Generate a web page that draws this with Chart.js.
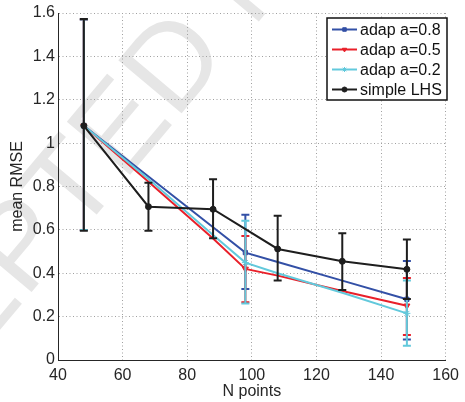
<!DOCTYPE html>
<html>
<head>
<meta charset="utf-8">
<script src="https://cdn.jsdelivr.net/npm/chart.js@4.4.1/dist/chart.umd.min.js"></script>
<style>
  html, body { margin: 0; padding: 0; background: #fff; }
</style>
</head>
<body>
<canvas id="chart" width="465" height="402"></canvas>
<script>
// Data
const xAdap = [48, 68, 88, 98, 108, 128, 148];
const rmseA08 = [1.08, 0.846, 0.612, 0.495, 0.452, 0.366, 0.28];
const rmseA05 = [1.08, 0.822, 0.56, 0.42, 0.389, 0.318, 0.25];
const rmseA02 = [1.08, 0.835, 0.576, 0.449, 0.40, 0.31, 0.215];
const lowA08 = [0.6, null, null, 0.327, null, null, 0.095];
const highA08 = [1.57, null, null, 0.67, null, null, 0.456];
const lowA05 = [0.6, null, null, 0.266, null, null, 0.115];
const highA05 = [1.57, null, null, 0.572, null, null, 0.378];
const lowA02 = [0.6, null, null, 0.261, null, null, 0.066];
const highA02 = [1.57, null, null, 0.642, null, null, 0.367];

const xLHS = [48, 68, 88, 108, 128, 148];
const rmseLHS = [1.08, 0.707, 0.695, 0.512, 0.455, 0.418];
const lowLHS = [0.596, 0.596, 0.561, 0.366, 0.323, 0.281];
const highLHS = [1.572, 0.817, 0.834, 0.665, 0.584, 0.556];

const seriesNames = ["adap a=0.8", "adap a=0.5", "adap a=0.2", "simple LHS"];
const xTicks = [40, 60, 80, 100, 120, 140, 160];
const yTicks = [0, 0.2, 0.4, 0.6, 0.8, 1, 1.2, 1.4, 1.6];
const yTickLabels = ["0", "0.2", "0.4", "0.6", "0.8", "1", "1.2", "1.4", "1.6"];

const FONT = '"Liberation Sans", Arial, Helvetica, sans-serif';
const BLUE = "#3350a6", RED = "#e9202a", CYAN = "#62c9dc", BLACK = "#1e1e1e";

const toPoints = (xs, ys) => xs.map((x, i) => ({ x: x, y: ys[i] }));
const radii = (lows, r) => lows.map(v => v == null ? 0 : r);

// error bars, drawn just under each series
const errorBars = {
  id: "errorBars",
  beforeDatasetDraw(chart, args) {
    const ds = chart.data.datasets[args.index];
    if (!ds.errLow) return;
    const ctx = chart.ctx, xs = chart.scales.x, ys = chart.scales.y;
    ctx.save();
    ctx.strokeStyle = ds.borderColor;
    ctx.lineWidth = 2;
    ds.data.forEach((p, i) => {
      const lo = ds.errLow[i], hi = ds.errHigh[i];
      if (lo == null) return;
      const x = xs.getPixelForValue(p.x);
      const y1 = ys.getPixelForValue(lo), y2 = ys.getPixelForValue(hi);
      ctx.beginPath();
      ctx.moveTo(x, y1); ctx.lineTo(x, y2);
      ctx.moveTo(x - 4, y1); ctx.lineTo(x + 4, y1);
      ctx.moveTo(x - 4, y2); ctx.lineTo(x + 4, y2);
      ctx.stroke();
    });
    ctx.restore();
  }
};

// faint diagonal watermark
const watermark = {
  id: "watermark",
  beforeDraw(chart) {
    const ctx = chart.ctx;
    ctx.save();
    ctx.translate(-189, 555);
    ctx.rotate(-50 * Math.PI / 180);
    ctx.font = "120px " + FONT;
    ctx.fillStyle = "#e6e6e6";
    ctx.fillText("ACCEPTED MANUSCRIPT", 0, 0);
    ctx.restore();
  }
};

// MATLAB style boxed legend
const boxLegend = {
  id: "boxLegend",
  afterDraw(chart) {
    const ctx = chart.ctx;
    const x0 = 327, y0 = 18, w = 120, h = 82;
    ctx.save();
    ctx.fillStyle = "#fff";
    ctx.fillRect(x0, y0, w, h);
    ctx.strokeStyle = "#111";
    ctx.lineWidth = 1.5;
    ctx.strokeRect(x0, y0, w, h);
    ctx.font = "16px " + FONT;
    ctx.textBaseline = "middle";
    chart.data.datasets.forEach((ds, i) => {
      const y = y0 + 11.5 + i * 20;
      ctx.strokeStyle = ds.borderColor;
      ctx.fillStyle = ds.backgroundColor;
      ctx.lineWidth = 2;
      ctx.beginPath();
      ctx.moveTo(x0 + 5, y); ctx.lineTo(x0 + 30, y);
      ctx.stroke();
      ctx.lineWidth = 1;
      Chart.helpers.drawPoint(ctx, {
        pointStyle: ds.pointStyle, rotation: ds.pointRotation || 0,
        radius: 2.5, borderWidth: 1
      }, x0 + 17.5, y);
      ctx.fillStyle = "#111";
      ctx.fillText(ds.label, x0 + 33, y + 1);
    });
    ctx.restore();
  }
};

new Chart(document.getElementById("chart"), {
  type: "line",
  data: {
    datasets: [
      {
        label: seriesNames[0], data: toPoints(xAdap, rmseA08),
        errLow: lowA08, errHigh: highA08,
        borderColor: BLUE, backgroundColor: BLUE, pointStyle: "rect",
        pointRadius: radii(lowA08, 3), order: 4
      },
      {
        label: seriesNames[1], data: toPoints(xAdap, rmseA05),
        errLow: lowA05, errHigh: highA05,
        borderColor: RED, backgroundColor: RED, pointStyle: "triangle", pointRotation: 180,
        pointRadius: radii(lowA05, 3.5), order: 3
      },
      {
        label: seriesNames[2], data: toPoints(xAdap, rmseA02),
        errLow: lowA02, errHigh: highA02,
        borderColor: CYAN, backgroundColor: CYAN, pointStyle: "star",
        pointRadius: radii(lowA02, 3.5), order: 2
      },
      {
        label: seriesNames[3], data: toPoints(xLHS, rmseLHS),
        errLow: lowLHS, errHigh: highLHS,
        borderColor: BLACK, backgroundColor: BLACK, pointStyle: "circle",
        pointRadius: 3, order: 1
      }
    ]
  },
  options: {
    responsive: false,
    animation: false,
    devicePixelRatio: 1,
    layout: { padding: { top: 13, right: 14, left: 0, bottom: 0 } },
    elements: {
      line: { borderWidth: 2, tension: 0 },
      point: { borderWidth: 1, hoverRadius: 3 }
    },
    plugins: {
      legend: { display: false },
      tooltip: { enabled: false }
    },
    scales: {
      x: {
        type: "linear", min: 40, max: 160,
        afterBuildTicks: s => { s.ticks = xTicks.map(v => ({ value: v })); },
        afterFit: s => { s.height = 42; },
        grid: { color: "#a0a0a0", lineWidth: 1, drawTicks: false },
        border: { color: "#262626", width: 1, dash: [1, 2.5] },
        ticks: { color: "#262626", padding: 6, font: { size: 16, family: FONT } },
        title: {
          display: true, text: "N points", color: "#262626",
          font: { size: 16, family: FONT }, padding: { top: 0, bottom: 1 }
        }
      },
      y: {
        type: "linear", min: 0, max: 1.6,
        afterBuildTicks: s => { s.ticks = yTicks.map(v => ({ value: v })); },
        afterFit: s => { s.width = 58; },
        grid: { color: "#a0a0a0", lineWidth: 1, drawTicks: false },
        border: { color: "#262626", width: 1, dash: [1, 2.5] },
        ticks: {
          color: "#262626", padding: 3, font: { size: 16, family: FONT },
          callback: (v, i) => yTickLabels[i]
        },
        title: {
          display: true, text: "mean RMSE", color: "#262626",
          font: { size: 16, family: FONT }, padding: { top: 8, bottom: 0 }
        }
      }
    }
  },
  plugins: [watermark, errorBars, boxLegend]
});
</script>
</body>
</html>
